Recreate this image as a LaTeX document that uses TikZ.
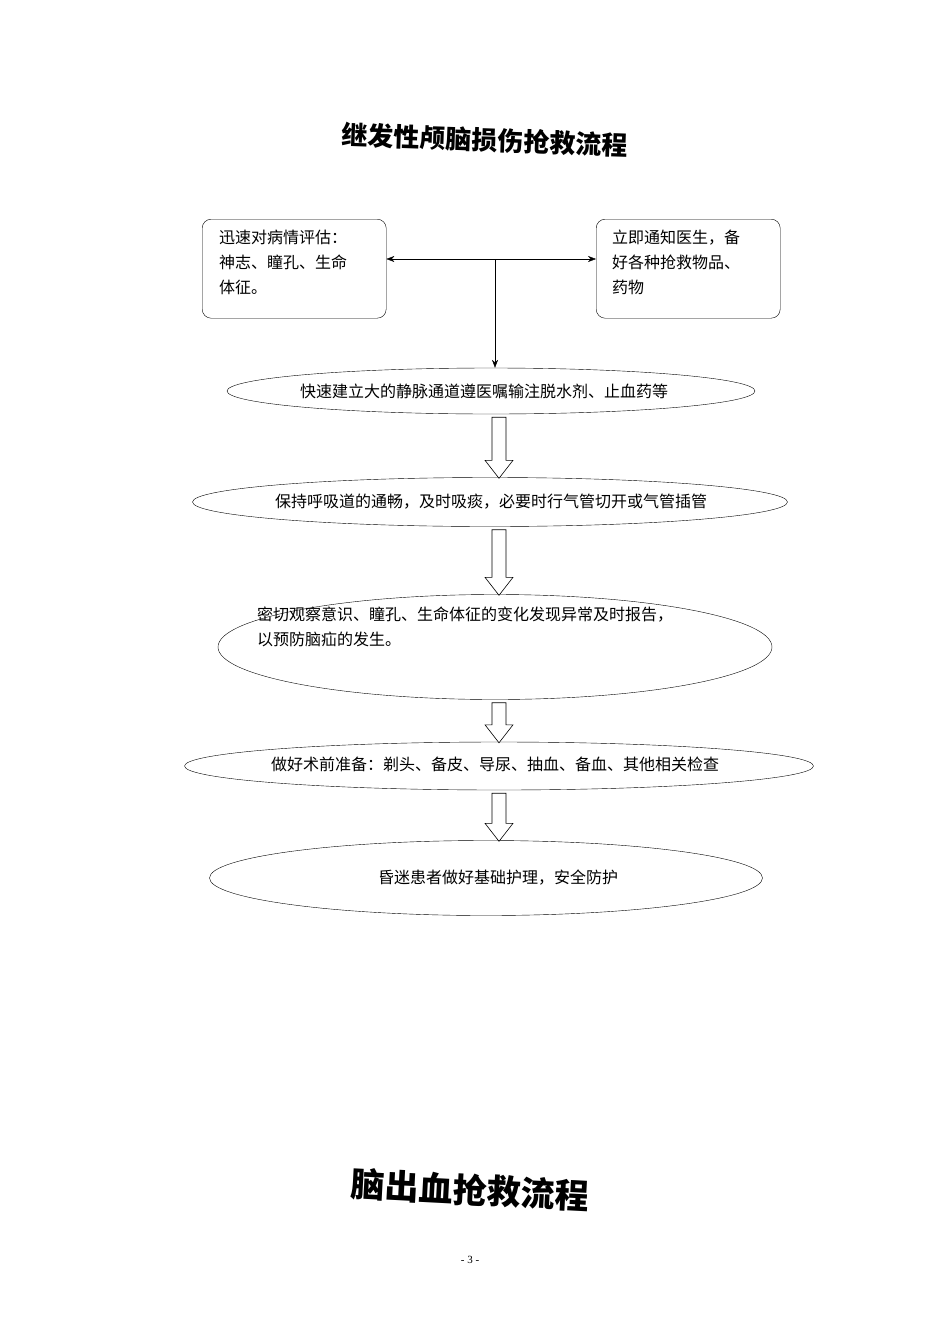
\documentclass[tikz,border=0pt]{standalone}
\usepackage{fontspec}
\setmainfont{Liberation Serif}
\newfontfamily\cjk{Noto Sans CJK SC}
\usetikzlibrary{shapes.geometric,arrows.meta,calc}
\begin{document}
\begin{tikzpicture}[x=1pt,y=-1pt,
  rbox/.style={draw,rounded corners=9pt,minimum width=184pt,minimum height=99pt,align=left,font=\cjk\fontsize{16}{25}\selectfont,inner sep=0pt},
  ell/.style={draw,ellipse,inner sep=0pt},
  lbl/.style={font=\cjk\fontsize{16}{25}\selectfont,inner sep=0pt,align=left},
  hollow/.style={draw,fill=white,line width=0.6pt}]
\useasboundingbox (0,0) rectangle (950,1344);
\node[font=\cjk\bfseries\fontsize{26}{30}\selectfont,rotate=-2] (t1) at (485,140) {继发性颅脑损伤抢救流程};
\node[draw,rounded corners=9pt,minimum width=184pt,minimum height=99pt,anchor=north west] (l) at (202,219) {};
\node[lbl,anchor=north west] (lt) at (219,230) {迅速对病情评估：\\神志、瞳孔、生命\\体征。};
\node[draw,rounded corners=9pt,minimum width=184pt,minimum height=99pt,anchor=north west] (r) at (596,219) {};
\node[lbl,anchor=north west] (rt) at (612,230) {立即通知医生，备\\好各种抢救物品、\\药物};
\node[ell,minimum width=528pt,minimum height=46pt] (e1) at (491,391) {};
\node[lbl] (e1t) at (484,391) {快速建立大的静脉通道遵医嘱输注脱水剂、止血药等};
\node[ell,minimum width=595pt,minimum height=49pt] (e2) at (490,502) {};
\node[lbl] (e2t) at (491,502) {保持呼吸道的通畅，及时吸痰，必要时行气管切开或气管插管};
\node[ell,minimum width=554pt,minimum height=105pt] (e3) at (495,647) {};
\node[lbl,anchor=north west] (e3t) at (257,607) {密切观察意识、瞳孔、生命体征的变化发现异常及时报告，\\以预防脑疝的发生。};
\node[ell,minimum width=629pt,minimum height=48pt] (e4) at (499,766) {};
\node[lbl] (e4t) at (495,764) {做好术前准备：剃头、备皮、导尿、抽血、备血、其他相关检查};
\node[ell,minimum width=553pt,minimum height=75pt] (e5) at (486,878) {};
\node[lbl] (e5t) at (498,878) {昏迷患者做好基础护理，安全防护};
\coordinate (j) at (495,259);
\draw[{Stealth[length=8pt]}-{Stealth[length=8pt]}] (l.east |- j) -- (r.west |- j);
\draw[-{Stealth[length=8pt]}] (j) -- (j |- e1.north);
\foreach \a/\b in {e1/e2,e2/e3,e3/e4,e4/e5}{
  \path (\a.south) ++(0,3) coordinate (s0);
  \path (\b.north) ++(0,1) coordinate (t0);
  \coordinate (s) at (499,0 |- s0);
  \coordinate (t) at (499,0 |- t0);
  \draw[hollow] ($(s)+(-7,0)$) -- ($(s)+(7,0)$) -- ($(t)+(7,-18)$) -- ($(t)+(14,-18)$) -- (t) -- ($(t)+(-14,-18)$) -- ($(t)+(-7,-18)$) -- cycle;
}
\node[font=\cjk\bfseries\fontsize{34}{40}\selectfont,rotate=-3] (t2) at (470,1190) {脑出血抢救流程};
\node[font=\fontsize{11}{12}\selectfont] (pg) at (470,1260) {- 3 -};
\end{tikzpicture}
\end{document}
